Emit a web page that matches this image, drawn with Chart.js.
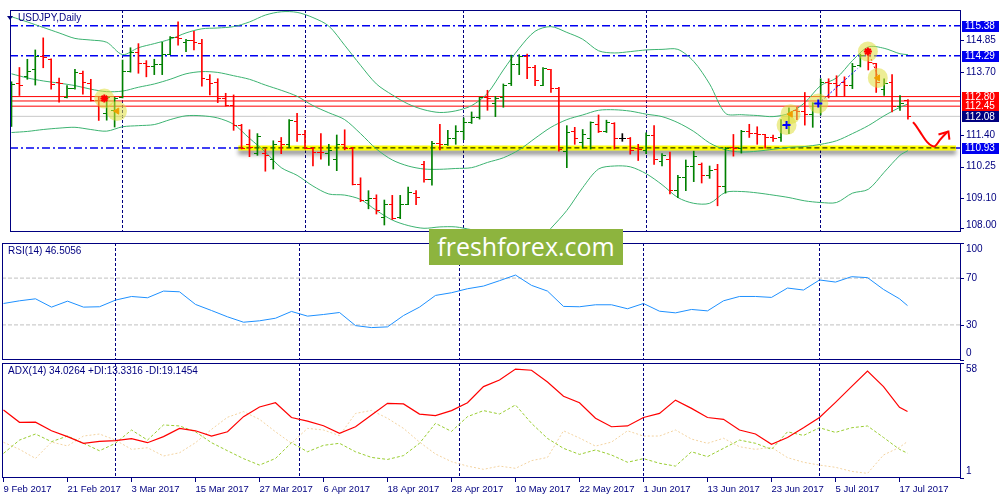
<!DOCTYPE html>
<html>
<head>
<meta charset="utf-8">
<title>USDJPY Daily</title>
<script src="https://cdn.jsdelivr.net/npm/chart.js@4.4.1/dist/chart.umd.min.js"></script>
<style>
  html, body { margin: 0; padding: 0; background: #fff; }
  #wrap { position: relative; width: 1000px; height: 500px; overflow: hidden; background: #fff; }
  #wrap canvas { position: absolute; left: 0; }
  #main { top: 0; }
  #rsi  { top: 242px; }
  #adx  { top: 362px; }
  #logo { position: absolute; left: 429px; top: 229px; width: 194px; height: 36px;
          background: #8db43e; color: #fff; font-family: "Open Sans", sans-serif;
          font-size: 25px; line-height: 34px; text-align: center; }
</style>
</head>
<body>
<div id="wrap">
  <canvas id="main" width="1000" height="242"></canvas>
  <canvas id="rsi" width="1000" height="120"></canvas>
  <canvas id="adx" width="1000" height="138"></canvas>
  <div id="logo">freshforex.com</div>
</div>
<script>
/* ── USDJPY, Daily — bars + Bollinger, RSI(14), ADX(14) ───────────────────── */

// ── Daily OHLC, 9 Feb 2017 … 18 Jul 2017 (bar index 0 … 113) ───────────────
const barOpen = [
  112.64,113.27,113.52,113.77,114.27,114.16,113.31,112.77,113.11,113.65,
  113.28,112.66,112.19,112.30,112.77,113.71,114.41,113.99,113.90,113.97,
  114.35,114.95,114.78,114.84,114.73,113.43,113.31,112.73,112.47,111.76,
  111.06,110.72,110.72,110.49,111.17,111.06,111.90,111.40,110.89,110.78,
  110.72,110.49,111.06,110.89,109.61,109.03,109.08,108.41,108.86,108.41,
  108.88,109.28,110.33,109.76,111.08,111.06,111.28,111.51,111.85,112.02,
  112.75,112.53,112.75,113.26,113.97,114.27,113.86,113.22,113.77,113.11,
  110.81,111.53,111.11,111.28,111.79,111.51,111.83,111.28,111.28,110.89,
  110.83,111.37,110.44,110.49,109.39,109.84,110.27,110.33,109.93,110.16,
  109.54,110.95,110.89,111.51,111.45,111.40,111.31,111.31,111.76,112.30,
  112.24,112.13,112.53,113.31,113.26,113.31,113.20,113.94,114.44,113.99,
  113.07,113.31,112.43,112.64];
const barHigh = [
  113.34,113.86,114.16,114.50,114.94,114.18,113.47,113.20,113.79,113.73,
  113.43,112.81,112.81,112.77,114.13,114.58,114.73,114.11,114.16,114.78,
  114.99,115.52,114.89,115.18,114.89,113.60,113.45,112.92,112.86,111.79,
  111.59,111.45,110.89,111.19,111.31,111.96,112.19,111.57,110.95,111.45,
  111.06,111.40,111.59,110.95,109.84,109.37,109.22,109.03,109.20,109.20,
  109.50,109.37,110.44,111.17,111.79,111.57,111.74,112.02,112.24,112.78,
  113.03,112.81,113.26,114.31,114.33,114.35,113.94,113.86,113.79,113.14,
  111.74,111.68,111.60,111.88,112.13,111.94,111.85,111.45,111.31,111.06,
  111.48,111.74,110.72,110.78,109.93,110.49,110.81,110.38,110.27,110.33,
  110.95,111.42,111.57,111.79,111.70,111.42,111.40,111.96,112.39,112.41,
  112.95,112.58,113.45,113.45,113.56,113.52,114.01,114.35,114.56,114.01,
  113.45,113.60,112.84,112.69];
const barLow = [
  111.71,112.84,113.43,113.22,113.85,113.07,112.60,112.75,113.07,112.89,
  112.64,111.93,111.94,111.69,112.75,113.69,113.65,113.52,113.60,113.60,
  114.33,114.67,114.44,114.50,113.18,112.86,112.58,112.45,111.57,110.89,
  110.61,110.66,110.08,110.16,110.72,110.95,111.17,110.89,110.27,110.52,
  110.29,110.10,110.86,109.58,108.97,108.71,108.52,108.12,108.32,108.35,
  108.86,108.86,109.68,109.57,110.86,111.02,111.06,111.23,111.82,111.98,
  112.30,112.07,112.41,113.20,113.60,113.45,113.20,113.20,112.95,110.81,
  110.21,111.06,110.92,110.89,111.49,111.49,110.89,111.17,110.70,110.47,
  110.72,110.33,110.27,109.25,109.12,109.37,109.70,109.65,109.82,108.82,
  109.28,110.63,110.74,111.31,111.06,110.92,111.17,111.17,111.45,111.96,
  111.76,111.68,112.13,112.75,112.81,112.81,113.09,113.88,113.77,112.95,
  112.84,112.24,112.30,111.98];
const barClose = [
  113.25,113.22,113.72,114.27,114.22,113.25,113.28,113.11,113.69,113.31,
  112.66,112.64,112.75,112.73,113.71,114.41,113.99,113.90,113.97,114.35,
  114.95,114.92,114.84,114.76,113.45,113.29,112.73,112.47,111.76,110.92,
  110.95,111.36,110.66,111.06,111.06,111.93,111.40,110.89,110.75,110.75,
  110.83,111.06,110.91,109.61,109.03,109.08,108.63,108.86,108.37,108.88,
  109.31,109.12,109.76,111.08,111.06,111.28,111.51,111.85,112.02,112.75,
  112.73,112.73,113.22,113.97,114.27,113.86,113.37,113.82,113.11,110.86,
  111.49,111.28,111.42,111.85,111.51,111.85,111.26,111.28,110.83,110.86,
  111.37,110.49,110.66,109.39,109.84,110.27,110.61,109.93,110.10,109.54,
  110.89,110.89,111.51,111.45,111.40,111.31,111.28,111.76,112.21,112.24,
  112.13,112.53,113.31,113.26,113.22,113.20,113.88,114.31,114.05,113.31,
  113.26,112.43,112.53,112.08];

// ── Indicator readings, every second bar ──────────────────────────────────────
const sampleIdx = [0,2,4,6,8,10,12,14,16,18,20,22,24,26,28,30,32,34,36,38,40,
  42,44,46,48,50,52,54,56,58,60,62,64,66,68,70,72,74,76,78,80,82,
  84,86,88,90,92,94,96,98,100,102,104,106,108,110,112,113];
const bandUpper = [115.71,115.52,115.32,115.12,114.92,114.86,114.78,114.33,114.58,114.73,114.89,
  115.12,115.27,115.30,115.35,115.52,115.77,115.89,115.87,115.68,115.37,
  114.67,113.94,113.26,112.86,112.53,112.32,112.22,112.28,112.47,112.92,113.77,
  114.56,115.18,115.35,115.14,114.89,114.47,114.39,114.44,114.50,114.52,
  114.52,114.08,113.26,112.19,112.14,112.11,112.07,112.19,112.58,113.20,113.48,
  114.11,114.61,114.56,114.36,114.33];
const bandMid = [113.63,113.48,113.37,113.29,113.20,113.07,112.98,113.00,113.14,113.26,113.43,
  113.63,113.71,113.68,113.56,113.43,113.22,113.03,112.81,112.47,112.21,
  111.96,111.45,110.89,110.49,110.27,110.16,110.15,110.18,110.21,110.40,110.57,
  110.86,111.28,111.68,111.96,112.13,112.30,112.32,112.27,112.16,112.07,
  111.85,111.53,111.11,110.86,110.78,110.81,110.88,110.95,110.98,111.06,111.19,
  111.45,111.74,112.10,112.41,112.53];
const bandLower = [111.49,111.53,111.60,111.65,111.68,111.60,111.54,111.70,111.74,111.78,111.96,
  112.10,112.10,112.02,111.79,111.28,110.78,110.21,109.93,109.54,109.25,
  109.21,109.05,108.65,108.30,108.10,108.00,108.05,108.05,107.95,107.88,107.40,
  107.20,107.40,108.00,108.65,109.48,110.16,110.27,110.24,109.99,109.59,
  109.12,108.91,108.91,109.31,109.34,109.29,109.21,109.12,109.00,108.94,108.94,
  109.28,109.42,110.04,110.66,110.83];
const rsiValues = [48.3,50.6,52.3,45.2,50.3,45.2,45.5,51.2,54.3,53.2,58.9,
  58.3,47.5,42.3,36.9,32.3,33.5,35.7,41.5,37.5,38.9,
  40.6,29.4,27.7,28.3,38.0,45.2,55.2,57.5,60.9,63.2,67.8,
  72.6,63.8,58.9,45.8,45.5,47.2,47.2,43.8,48.3,41.7,
  40.3,43.2,42.0,50.6,54.3,54.3,53.5,61.5,59.8,68.4,66.6,
  71.2,70.4,60.3,52.3,46.5];
const adxValues = [34.7,28.6,28.7,24.4,21.5,18.2,19.2,19.5,20.5,18.5,21.5,
  25.6,24.4,21.8,23.9,31.4,36.2,38.3,31.0,29.2,26.9,
  23.1,26.4,32.2,38.0,37.7,32.7,31.9,34.4,38.3,46.3,49.6,
  55.0,54.4,48.6,41.5,38.3,30.6,26.4,26.8,31.0,33.0,
  39.6,35.5,31.0,30.1,24.8,22.8,17.7,21.1,25.9,31.0,38.5,
  46.3,54.0,46.3,36.0,34.0];
const plusDI = [13.2,19.8,22.8,19.0,21.8,18.2,14.5,18.2,24.8,19.8,27.3,
  26.8,23.9,18.5,14.5,10.6,7.4,10.7,18.5,14.0,17.2,
  18.2,14.0,11.2,10.2,12.1,18.2,28.1,24.1,31.4,34.4,32.7,
  37.2,28.1,20.6,15.7,12.7,14.9,12.4,8.8,10.6,8.3,
  6.9,14.0,11.6,15.7,19.8,18.2,15.2,23.9,22.1,25.9,23.6,
  25.9,26.8,21.1,15.2,13.3];
const minusDI = [18.7,15.2,10.7,18.8,16.9,21.8,22.8,19.8,15.2,16.0,11.9,
  13.5,18.5,25.1,31.1,33.9,30.1,23.9,18.2,25.6,24.8,
  22.0,33.0,34.5,30.6,25.6,18.8,12.9,9.1,6.9,5.3,6.9,
  5.8,9.6,11.2,24.4,20.8,16.8,18.8,24.4,21.8,21.8,
  24.8,20.3,18.2,20.7,16.5,15.2,16.2,11.1,8.8,7.4,6.3,
  4.3,3.3,12.4,16.2,19.1];

// ── Levels, ticks & labels ────────────────────────────────────────────────────
const blueLevels   = [115.38, 114.29, 110.93];
const redLevels    = [112.80, 112.64, 112.45];
const bidLevel     = 112.08;
const supportLevel = 110.93;
const supportFrom  = 28.6;
const supportTo    = 119.05;
const priceTicks   = [114.85, 113.70, 111.40, 110.25, 109.10, 108.00];
const rsiLevels    = [70, 30];
const rsiTicks     = [100, 70, 30, 0];
const adxTicks     = [58, 1];
const monthStarts  = [14, 37, 57, 80, 102];
const dateTicks    = [0, 8, 16, 24, 32, 40, 48, 56, 64, 72, 80, 88, 96, 104, 112];
const dateLabels   = ['9 Feb 2017', '21 Feb 2017', '3 Mar 2017', '15 Mar 2017', '27 Mar 2017',
  '6 Apr 2017', '18 Apr 2017', '28 Apr 2017', '10 May 2017', '22 May 2017', '1 Jun 2017',
  '13 Jun 2017', '23 Jun 2017', '5 Jul 2017', '17 Jul 2017'];

// ── Trade marks & drawn arrow ─────────────────────────────────────────────────
const circleX = [11.7, 13.3, 97.7, 98.2, 101.7, 107.95, 109.2];
const circleY = [112.73, 112.27, 111.76, 112.16, 112.55, 114.44, 113.48];
const sellX = [11.7, 107.95];            const sellY = [112.73, 114.44];
const buyX  = [97.7, 101.7];             const buyY  = [111.76, 112.55];
const exitX = [13.3, 98.2, 109.2];       const exitY = [112.27, 112.16, 113.48];
const tradeLineX = [102.1, 106.65];      const tradeLineY = [112.64, 113.82];
const exitLineX  = [107.98, 109.15];     const exitLineY  = [114.44, 113.60];
const arrowX = [113.65, 114.15, 114.78, 115.40, 116.03, 116.44, 117.06, 117.90, 118.10];
const arrowY = [111.87, 111.68, 111.40, 111.15, 111.00, 111.00, 111.23, 111.49, 111.53];
const arrowHeadX = [116.85, 118.10, 118.23];
const arrowHeadY = [111.42, 111.53, 111.23];

// ── Look ─────────────────────────────────────────────────────────────────────
const NAVY = '#000080', BLUE = '#0000f0', UP = '#008000', DOWN = '#ff0000', DOJI = '#000000';
const BAND = '#3cb371';
const FONT = '"Liberation Sans", Arial, sans-serif';
const X_MIN = -0.1875, X_MAX = 119.5625;
const PRICE_MIN = 107.8646, PRICE_MAX = 115.9555;

const pts   = (xs, ys) => xs.map((x, k) => ({ x, y: ys[k] }));
const hline = (v, x0 = X_MIN, x1 = X_MAX) => [{ x: x0, y: v }, { x: x1, y: v }];
const lineDs = (data, color, extra) => Object.assign(
  { type: 'line', data, borderColor: color, borderWidth: 1, pointRadius: 0, fill: false, tension: 0 }, extra);

const barIdx   = barOpen.map((_, i) => i);
const barColor = barOpen.map((o, i) => barClose[i] > o ? UP : barClose[i] < o ? DOWN : DOJI);

// open tick sits left of the bar, close tick right of it
function tickImg(color, left) {
  const c = document.createElement('canvas');
  c.width = 7; c.height = 1;
  const g = c.getContext('2d');
  g.fillStyle = color;
  g.fillRect(left ? 0 : 4, 0, 3, 1);
  return c;
}
const openImg = {}, closeImg = {};
[UP, DOWN, DOJI].forEach(c => { openImg[c] = tickImg(c, true); closeImg[c] = tickImg(c, false); });

// ── Panel decoration: separators, frame, right axis, titles, dates ───────────
function makeDecor(panel) {
  return {
    id: 'decor',
    beforeDatasetsDraw(chart) {
      const { ctx, chartArea: a, scales: { x } } = chart;
      ctx.save();
      ctx.strokeStyle = NAVY; ctx.lineWidth = 1; ctx.setLineDash([3, 2]);
      monthStarts.forEach(i => {
        const px = Math.floor(x.getPixelForValue(i)) + 0.5;
        ctx.beginPath(); ctx.moveTo(px, a.top); ctx.lineTo(px, a.bottom); ctx.stroke();
      });
      ctx.restore();
      ctx.imageSmoothingEnabled = false;
    },
    afterDatasetsDraw(chart) { chart.ctx.imageSmoothingEnabled = true; },
    beforeDatasetDraw(chart, args) {
      if (!chart.data.datasets[args.index].shadow) return;
      const ctx = chart.ctx;
      ctx.save();
      ctx.shadowColor = 'rgba(0,0,0,0.45)'; ctx.shadowOffsetY = 4; ctx.shadowBlur = 4;
    },
    afterDatasetDraw(chart, args) {
      if (chart.data.datasets[args.index].shadow) chart.ctx.restore();
    },
    afterDraw(chart) {
      const { ctx, chartArea: a, scales: { x, y } } = chart;
      ctx.save();
      ctx.strokeStyle = NAVY; ctx.lineWidth = 1;
      ctx.strokeRect(a.left + 0.5, a.top + 0.5, a.right - a.left, a.bottom - a.top - 1);

      ctx.font = '10px ' + FONT;
      ctx.textBaseline = 'middle'; ctx.textAlign = 'left';
      panel.ticks.forEach(v => {
        const py = y.getPixelForValue(v);
        const ty = Math.round(py) + 0.5;
        ctx.beginPath(); ctx.moveTo(a.right, ty); ctx.lineTo(a.right + 4, ty); ctx.stroke();
        const ly = Math.min(Math.max(py, a.top + 6), a.bottom - 7);
        ctx.fillStyle = NAVY;
        ctx.fillText(v.toFixed(panel.digits), a.right + 6, ly);
      });
      (panel.boxes || []).forEach(([v, color]) => {
        const py = y.getPixelForValue(v);
        ctx.fillStyle = color;
        ctx.fillRect(a.right + 2, Math.round(py) - 5, 37, 11);
        ctx.fillStyle = '#ffffff';
        ctx.fillText(v.toFixed(2), a.right + 5, py + 0.5);
      });

      // title
      ctx.fillStyle = NAVY;
      let tx = a.left + 6;
      if (panel.marker) {
        ctx.beginPath(); ctx.moveTo(7, a.top + 6); ctx.lineTo(13, a.top + 6); ctx.lineTo(10, a.top + 10);
        ctx.closePath(); ctx.fill();
        tx = 18;
      }
      ctx.fillText(panel.title, tx, a.top + 8.5);

      // date axis
      if (panel.dates) {
        ctx.font = '9.5px ' + FONT;
        dateTicks.forEach((i, k) => {
          const px = Math.floor(x.getPixelForValue(i)) + 0.5;
          ctx.beginPath(); ctx.moveTo(px, a.bottom); ctx.lineTo(px, a.bottom + 4); ctx.stroke();
          ctx.fillText(dateLabels[k], px, a.bottom + 11);
        });
      }
      ctx.restore();
    }
  };
}

function makeChart(id, yMin, yMax, padding, datasets, panel) {
  return new Chart(document.getElementById(id), {
    type: 'bar',
    data: { datasets },
    options: {
      responsive: false, animation: false, devicePixelRatio: 1, events: [],
      layout: { padding },
      scales: {
        x: { type: 'linear', min: X_MIN, max: X_MAX, offset: false, display: false },
        y: { type: 'linear', min: yMin, max: yMax, display: false },
      },
      plugins: { legend: { display: false }, tooltip: { enabled: false } },
    },
    plugins: [makeDecor(panel)],
  });
}

// ── Main price panel ─────────────────────────────────────────────────────────
makeChart('main', PRICE_MIN, PRICE_MAX, { left: 2, right: 40, top: 2, bottom: 1 }, [
  lineDs(pts(arrowX, arrowY), '#ff0000', { borderWidth: 2, tension: 0.3, order: 0 }),
  lineDs(pts(arrowHeadX, arrowHeadY), '#ff0000', { borderWidth: 2, order: 0 }),
  { type: 'scatter', data: pts(sellX, sellY), pointStyle: 'star', pointRadius: 4,
    borderColor: '#ff0000', borderWidth: 2, order: 1 },
  { type: 'scatter', data: pts(buyX, buyY), pointStyle: 'cross', pointRadius: 4,
    borderColor: '#0000ff', borderWidth: 2, order: 1 },
  { type: 'scatter', data: pts(exitX, exitY), pointStyle: 'triangle', rotation: -90, pointRadius: 3.5,
    backgroundColor: '#f0a000', borderColor: '#f0a000', order: 1 },
  { type: 'scatter', data: pts(circleX, circleY), pointRadius: 10,
    backgroundColor: 'rgba(222,222,60,0.55)', borderWidth: 0, order: 2 },
  lineDs(pts(tradeLineX, tradeLineY), '#0000ff', { borderDash: [2, 2], order: 3 }),
  lineDs(pts(exitLineX, exitLineY), '#ff0000', { borderDash: [2, 2], order: 3 }),
  { type: 'scatter', data: pts(barIdx, barOpen), pointStyle: barColor.map(c => openImg[c]),
    pointRadius: 3, order: 4 },
  { type: 'scatter', data: pts(barIdx, barClose), pointStyle: barColor.map(c => closeImg[c]),
    pointRadius: 3, order: 4 },
  { type: 'bar', data: barIdx.map(i => ({ x: i, y: [barLow[i], barHigh[i]] })),
    backgroundColor: barColor, barThickness: 1, grouped: false, borderWidth: 0, order: 5 },
  lineDs(pts(sampleIdx, bandUpper), BAND, { tension: 0.3, order: 6 }),
  lineDs(pts(sampleIdx, bandMid),   BAND, { tension: 0.3, order: 6 }),
  lineDs(pts(sampleIdx, bandLower), BAND, { tension: 0.3, order: 6 }),
  lineDs(hline(supportLevel, supportFrom, supportTo), '#000000', { borderDash: [5, 3], order: 7 }),
  lineDs(hline(supportLevel, supportFrom, supportTo), '#ffff00', { borderWidth: 5, order: 8, shadow: true }),
  ...redLevels.map(v => lineDs(hline(v), '#ff0000', { order: 9 })),
  ...blueLevels.map(v => lineDs(hline(v), BLUE, { borderDash: [8, 3, 2, 3], borderWidth: 1.5, order: 10 })),
  lineDs(hline(bidLevel), '#c8c8c8', { order: 11 }),
], {
  title: 'USDJPY,Daily', marker: true, ticks: priceTicks, digits: 2,
  boxes: [
    ...blueLevels.map(v => [v, BLUE]),
    [redLevels[0], '#ff0000'], [redLevels[2], '#ff0000'],
    [bidLevel, NAVY],
  ],
});

// ── RSI(14) ──────────────────────────────────────────────────────────────────
makeChart('rsi', 0, 100, { left: 2, right: 40, top: 1, bottom: 2 }, [
  lineDs(pts(sampleIdx, rsiValues), '#1e90ff', { order: 0 }),
  ...rsiLevels.map(v => lineDs(hline(v), '#c0c0c0', { borderDash: [4, 2], order: 1 })),
], { title: 'RSI(14) 46.5056', ticks: rsiTicks, digits: 0 });

// ── ADX(14) ──────────────────────────────────────────────────────────────────
makeChart('adx', 1, 58, { left: 2, right: 40, top: 1, bottom: 22 }, [
  lineDs(pts(sampleIdx, adxValues), '#ff0000', { borderWidth: 1.2, order: 0 }),
  lineDs(pts(sampleIdx, plusDI), '#9acd32', { borderDash: [3, 2], order: 1 }),
  lineDs(pts(sampleIdx, minusDI), '#f3d3a0', { borderDash: [2, 2], order: 2 }),
], { title: 'ADX(14) 34.0264 +DI:13.3316 -DI:19.1454', ticks: adxTicks, digits: 0, dates: true });
</script>
</body>
</html>
